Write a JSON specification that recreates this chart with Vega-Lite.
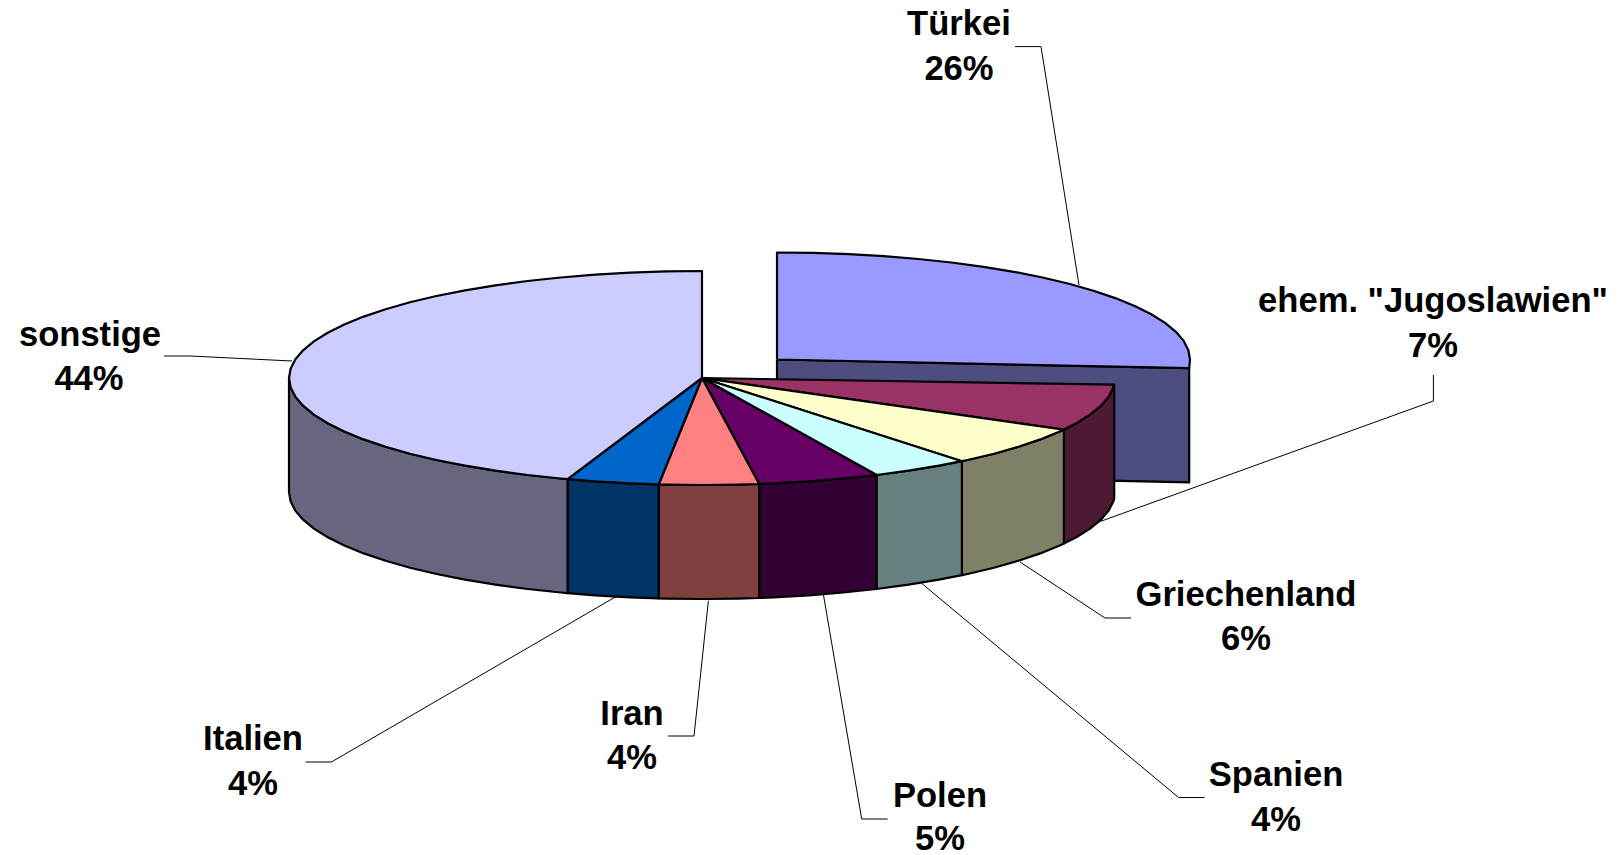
{"$schema":"https://vega.github.io/schema/vega-lite/v6.json","width":1624,"height":855,"padding":0,"autosize":"none","background":"white","config":{"view":{"stroke":null}},
"datasets":{
"shapes":[
{"s":"tcut","i":1,"x":777,"y":359.5},{"s":"tcut","i":2,"x":1189.2,"y":368.2},{"s":"tcut","i":3,"x":1189.2,"y":482.4},{"s":"tcut","i":4,"x":777,"y":473.5},{"s":"tcut","i":5,"x":777,"y":359.5},
{"s":"ttop","i":1,"x":777,"y":359.5},{"s":"ttop","i":2,"x":777,"y":252.5},{"s":"ttop","i":3,"x":813,"y":252.9},{"s":"ttop","i":4,"x":848.7,"y":254.1},{"s":"ttop","i":5,"x":883.9,"y":256.1},{"s":"ttop","i":6,"x":918.2,"y":259},{"s":"ttop","i":7,"x":951.5,"y":262.5},{"s":"ttop","i":8,"x":983.5,"y":266.8},{"s":"ttop","i":9,"x":1013.9,"y":271.8},{"s":"ttop","i":10,"x":1042.5,"y":277.5},{"s":"ttop","i":11,"x":1069,"y":283.8},{"s":"ttop","i":12,"x":1093.4,"y":290.7},{"s":"ttop","i":13,"x":1115.3,"y":298.1},{"s":"ttop","i":14,"x":1134.7,"y":306},{"s":"ttop","i":15,"x":1151.3,"y":314.3},{"s":"ttop","i":16,"x":1165.1,"y":322.9},{"s":"ttop","i":17,"x":1175.9,"y":331.8},{"s":"ttop","i":18,"x":1183.7,"y":340.9},{"s":"ttop","i":19,"x":1188.4,"y":350.2},{"s":"ttop","i":20,"x":1190,"y":359.5},{"s":"ttop","i":21,"x":1189.2,"y":368.2},{"s":"ttop","i":22,"x":777,"y":359.5},

{"s":"jside","i":1,"x":1114.2,"y":384.7},{"s":"jside","i":2,"x":1113.4,"y":387.3},{"s":"jside","i":3,"x":1108.7,"y":396.6},{"s":"jside","i":4,"x":1100.9,"y":405.7},{"s":"jside","i":5,"x":1090.1,"y":414.6},{"s":"jside","i":6,"x":1076.3,"y":423.2},{"s":"jside","i":7,"x":1063.9,"y":429.6},{"s":"jside","i":8,"x":1063.9,"y":543.6},{"s":"jside","i":9,"x":1076.3,"y":537.2},{"s":"jside","i":10,"x":1090.1,"y":528.6},{"s":"jside","i":11,"x":1100.9,"y":519.7},{"s":"jside","i":12,"x":1108.7,"y":510.6},{"s":"jside","i":13,"x":1113.4,"y":501.3},{"s":"jside","i":14,"x":1114.2,"y":498.7},{"s":"jside","i":15,"x":1114.2,"y":384.7},

{"s":"gside","i":1,"x":1063.9,"y":429.6},{"s":"gside","i":2,"x":1059.7,"y":431.5},{"s":"gside","i":3,"x":1040.3,"y":439.4},{"s":"gside","i":4,"x":1018.4,"y":446.8},{"s":"gside","i":5,"x":994,"y":453.7},{"s":"gside","i":6,"x":967.5,"y":460},{"s":"gside","i":7,"x":961.9,"y":461.2},{"s":"gside","i":8,"x":961.9,"y":575.2},{"s":"gside","i":9,"x":967.5,"y":574},{"s":"gside","i":10,"x":994,"y":567.7},{"s":"gside","i":11,"x":1018.4,"y":560.8},{"s":"gside","i":12,"x":1040.3,"y":553.4},{"s":"gside","i":13,"x":1059.7,"y":545.5},{"s":"gside","i":14,"x":1063.9,"y":543.6},{"s":"gside","i":15,"x":1063.9,"y":429.6},

{"s":"sside","i":1,"x":961.9,"y":461.2},{"s":"sside","i":2,"x":938.9,"y":465.7},{"s":"sside","i":3,"x":908.5,"y":470.7},{"s":"sside","i":4,"x":876.5,"y":475},{"s":"sside","i":5,"x":876.5,"y":589},{"s":"sside","i":6,"x":908.5,"y":584.7},{"s":"sside","i":7,"x":938.9,"y":579.7},{"s":"sside","i":8,"x":961.9,"y":575.2},{"s":"sside","i":9,"x":961.9,"y":461.2},

{"s":"pside","i":1,"x":876.5,"y":475},{"s":"pside","i":2,"x":843.2,"y":478.5},{"s":"pside","i":3,"x":808.9,"y":481.4},{"s":"pside","i":4,"x":773.7,"y":483.4},{"s":"pside","i":5,"x":759.2,"y":484},{"s":"pside","i":6,"x":759.2,"y":598},{"s":"pside","i":7,"x":773.7,"y":597.4},{"s":"pside","i":8,"x":808.9,"y":595.4},{"s":"pside","i":9,"x":843.2,"y":592.5},{"s":"pside","i":10,"x":876.5,"y":589},{"s":"pside","i":11,"x":876.5,"y":475},

{"s":"iside","i":1,"x":759.2,"y":484},{"s":"iside","i":2,"x":738,"y":484.6},{"s":"iside","i":3,"x":702,"y":485},{"s":"iside","i":4,"x":666,"y":484.6},{"s":"iside","i":5,"x":658.7,"y":484.4},{"s":"iside","i":6,"x":658.7,"y":598.4},{"s":"iside","i":7,"x":666,"y":598.6},{"s":"iside","i":8,"x":702,"y":599},{"s":"iside","i":9,"x":738,"y":598.6},{"s":"iside","i":10,"x":759.2,"y":598},{"s":"iside","i":11,"x":759.2,"y":484},

{"s":"lside","i":1,"x":658.7,"y":484.4},{"s":"lside","i":2,"x":630.3,"y":483.4},{"s":"lside","i":3,"x":595.1,"y":481.4},{"s":"lside","i":4,"x":567.6,"y":479.2},{"s":"lside","i":5,"x":567.6,"y":593.2},{"s":"lside","i":6,"x":595.1,"y":595.4},{"s":"lside","i":7,"x":630.3,"y":597.4},{"s":"lside","i":8,"x":658.7,"y":598.4},{"s":"lside","i":9,"x":658.7,"y":484.4},

{"s":"oside","i":1,"x":567.6,"y":479.2},{"s":"oside","i":2,"x":560.8,"y":478.5},{"s":"oside","i":3,"x":527.5,"y":475},{"s":"oside","i":4,"x":495.5,"y":470.7},{"s":"oside","i":5,"x":465.1,"y":465.7},{"s":"oside","i":6,"x":436.5,"y":460},{"s":"oside","i":7,"x":410,"y":453.7},{"s":"oside","i":8,"x":385.6,"y":446.8},{"s":"oside","i":9,"x":363.7,"y":439.4},{"s":"oside","i":10,"x":344.3,"y":431.5},{"s":"oside","i":11,"x":327.7,"y":423.2},{"s":"oside","i":12,"x":313.9,"y":414.6},{"s":"oside","i":13,"x":303.1,"y":405.7},{"s":"oside","i":14,"x":295.3,"y":396.6},{"s":"oside","i":15,"x":290.6,"y":387.3},{"s":"oside","i":16,"x":289,"y":378},{"s":"oside","i":17,"x":289,"y":492},{"s":"oside","i":18,"x":290.6,"y":501.3},{"s":"oside","i":19,"x":295.3,"y":510.6},{"s":"oside","i":20,"x":303.1,"y":519.7},{"s":"oside","i":21,"x":313.9,"y":528.6},{"s":"oside","i":22,"x":327.7,"y":537.2},{"s":"oside","i":23,"x":344.3,"y":545.5},{"s":"oside","i":24,"x":363.7,"y":553.4},{"s":"oside","i":25,"x":385.6,"y":560.8},{"s":"oside","i":26,"x":410,"y":567.7},{"s":"oside","i":27,"x":436.5,"y":574},{"s":"oside","i":28,"x":465.1,"y":579.7},{"s":"oside","i":29,"x":495.5,"y":584.7},{"s":"oside","i":30,"x":527.5,"y":589},{"s":"oside","i":31,"x":560.8,"y":592.5},{"s":"oside","i":32,"x":567.6,"y":593.2},{"s":"oside","i":33,"x":567.6,"y":479.2},

{"s":"jtop","i":1,"x":702,"y":378},{"s":"jtop","i":2,"x":1114.2,"y":384.7},{"s":"jtop","i":3,"x":1113.4,"y":387.3},{"s":"jtop","i":4,"x":1108.7,"y":396.6},{"s":"jtop","i":5,"x":1100.9,"y":405.7},{"s":"jtop","i":6,"x":1090.1,"y":414.6},{"s":"jtop","i":7,"x":1076.3,"y":423.2},{"s":"jtop","i":8,"x":1063.9,"y":429.6},{"s":"jtop","i":9,"x":702,"y":378},

{"s":"gtop","i":1,"x":702,"y":378},{"s":"gtop","i":2,"x":1063.9,"y":429.6},{"s":"gtop","i":3,"x":1059.7,"y":431.5},{"s":"gtop","i":4,"x":1040.3,"y":439.4},{"s":"gtop","i":5,"x":1018.4,"y":446.8},{"s":"gtop","i":6,"x":994,"y":453.7},{"s":"gtop","i":7,"x":967.5,"y":460},{"s":"gtop","i":8,"x":961.9,"y":461.2},{"s":"gtop","i":9,"x":702,"y":378},

{"s":"stop","i":1,"x":702,"y":378},{"s":"stop","i":2,"x":961.9,"y":461.2},{"s":"stop","i":3,"x":938.9,"y":465.7},{"s":"stop","i":4,"x":908.5,"y":470.7},{"s":"stop","i":5,"x":876.5,"y":475},{"s":"stop","i":6,"x":702,"y":378},

{"s":"ptop","i":1,"x":702,"y":378},{"s":"ptop","i":2,"x":876.5,"y":475},{"s":"ptop","i":3,"x":843.2,"y":478.5},{"s":"ptop","i":4,"x":808.9,"y":481.4},{"s":"ptop","i":5,"x":773.7,"y":483.4},{"s":"ptop","i":6,"x":759.2,"y":484},{"s":"ptop","i":7,"x":702,"y":378},

{"s":"itop","i":1,"x":702,"y":378},{"s":"itop","i":2,"x":759.2,"y":484},{"s":"itop","i":3,"x":738,"y":484.6},{"s":"itop","i":4,"x":702,"y":485},{"s":"itop","i":5,"x":666,"y":484.6},{"s":"itop","i":6,"x":658.7,"y":484.4},{"s":"itop","i":7,"x":702,"y":378},

{"s":"ltop","i":1,"x":702,"y":378},{"s":"ltop","i":2,"x":658.7,"y":484.4},{"s":"ltop","i":3,"x":630.3,"y":483.4},{"s":"ltop","i":4,"x":595.1,"y":481.4},{"s":"ltop","i":5,"x":567.6,"y":479.2},{"s":"ltop","i":6,"x":702,"y":378},

{"s":"otop","i":1,"x":702,"y":378},{"s":"otop","i":2,"x":567.6,"y":479.2},{"s":"otop","i":3,"x":560.8,"y":478.5},{"s":"otop","i":4,"x":527.5,"y":475},{"s":"otop","i":5,"x":495.5,"y":470.7},{"s":"otop","i":6,"x":465.1,"y":465.7},{"s":"otop","i":7,"x":436.5,"y":460},{"s":"otop","i":8,"x":410,"y":453.7},{"s":"otop","i":9,"x":385.6,"y":446.8},{"s":"otop","i":10,"x":363.7,"y":439.4},{"s":"otop","i":11,"x":344.3,"y":431.5},{"s":"otop","i":12,"x":327.7,"y":423.2},{"s":"otop","i":13,"x":313.9,"y":414.6},{"s":"otop","i":14,"x":303.1,"y":405.7},{"s":"otop","i":15,"x":295.3,"y":396.6},{"s":"otop","i":16,"x":290.6,"y":387.3},{"s":"otop","i":17,"x":289,"y":378},{"s":"otop","i":18,"x":290.6,"y":368.7},{"s":"otop","i":19,"x":295.3,"y":359.4},{"s":"otop","i":20,"x":303.1,"y":350.3},{"s":"otop","i":21,"x":313.9,"y":341.4},{"s":"otop","i":22,"x":327.7,"y":332.8},{"s":"otop","i":23,"x":344.3,"y":324.5},{"s":"otop","i":24,"x":363.7,"y":316.6},{"s":"otop","i":25,"x":385.6,"y":309.2},{"s":"otop","i":26,"x":410,"y":302.3},{"s":"otop","i":27,"x":436.5,"y":296},{"s":"otop","i":28,"x":465.1,"y":290.3},{"s":"otop","i":29,"x":495.5,"y":285.3},{"s":"otop","i":30,"x":527.5,"y":281},{"s":"otop","i":31,"x":560.8,"y":277.5},{"s":"otop","i":32,"x":595.1,"y":274.6},{"s":"otop","i":33,"x":630.3,"y":272.6},{"s":"otop","i":34,"x":666,"y":271.4},{"s":"otop","i":35,"x":702,"y":271},{"s":"otop","i":36,"x":702,"y":378}
],
"leaders":[
{"k":"t","i":1,"x":1015,"y":46.6},{"k":"t","i":2,"x":1041,"y":46.6},{"k":"t","i":3,"x":1079,"y":285},
{"k":"j","i":1,"x":1433.4,"y":375},{"k":"j","i":2,"x":1433.4,"y":401},{"k":"j","i":3,"x":1096,"y":523},
{"k":"g","i":1,"x":1131,"y":618},{"k":"g","i":2,"x":1105,"y":618},{"k":"g","i":3,"x":1020,"y":562},
{"k":"s","i":1,"x":1204.5,"y":797.5},{"k":"s","i":2,"x":1178.6,"y":797.5},{"k":"s","i":3,"x":920,"y":582},
{"k":"p","i":1,"x":887.6,"y":819},{"k":"p","i":2,"x":861.7,"y":819},{"k":"p","i":3,"x":823.4,"y":594.5},
{"k":"r","i":1,"x":668,"y":736},{"k":"r","i":2,"x":694,"y":736},{"k":"r","i":3,"x":708.4,"y":600.7},
{"k":"l","i":1,"x":305.5,"y":762},{"k":"l","i":2,"x":331.4,"y":762},{"k":"l","i":3,"x":616,"y":596.6},
{"k":"o","i":1,"x":164,"y":356},{"k":"o","i":2,"x":190,"y":356},{"k":"o","i":3,"x":292,"y":361}
],
"labels":[
{"t":"Türkei","x":959,"y":25},{"t":"26%","x":959,"y":70},
{"t":"ehem. \"Jugoslawien\"","x":1433,"y":302},{"t":"7%","x":1433,"y":347},
{"t":"Griechenland","x":1246,"y":596},{"t":"6%","x":1246,"y":640},
{"t":"Spanien","x":1276,"y":776},{"t":"4%","x":1276,"y":821},
{"t":"Polen","x":940,"y":797},{"t":"5%","x":940,"y":840},
{"t":"Iran","x":632,"y":715},{"t":"4%","x":632,"y":759},
{"t":"Italien","x":253,"y":740},{"t":"4%","x":253,"y":785},
{"t":"sonstige","x":90,"y":336},{"t":"44%","x":89,"y":380}
]},
"layer":[
{"data":{"name":"shapes"},"mark":{"type":"line","filled":true,"stroke":"black","strokeWidth":2.2,"strokeJoin":"round","clip":false},
"encoding":{"x":{"field":"x","type":"quantitative","scale":{"domain":[0,1624],"nice":false,"zero":false},"axis":null},"y":{"field":"y","type":"quantitative","scale":{"domain":[855,0],"nice":false,"zero":false},"axis":null},"order":{"field":"i","type":"quantitative"},
"color":{"field":"s","type":"nominal","legend":null,"scale":{"domain":["tcut","ttop","jside","gside","sside","pside","iside","lside","oside","jtop","gtop","stop","ptop","itop","ltop","otop"],"range":["#4d4d80","#9999ff","#4d1a33","#808066","#668080","#330033","#804040","#003366","#666680","#993366","#ffffcc","#ccffff","#660066","#ff8080","#0066cc","#ccccff"]}}}},
{"data":{"name":"leaders"},"mark":{"type":"line","color":"black","strokeWidth":1},
"encoding":{"x":{"field":"x","type":"quantitative","scale":{"domain":[0,1624],"nice":false,"zero":false},"axis":null},"y":{"field":"y","type":"quantitative","scale":{"domain":[855,0],"nice":false,"zero":false},"axis":null},"order":{"field":"i","type":"quantitative"},"detail":{"field":"k"}}},
{"data":{"name":"labels"},"mark":{"type":"text","font":"Liberation Sans","fontWeight":"bold","fontSize":34.6,"align":"center","baseline":"middle","color":"black"},
"encoding":{"x":{"field":"x","type":"quantitative","scale":{"domain":[0,1624],"nice":false,"zero":false},"axis":null},"y":{"field":"y","type":"quantitative","scale":{"domain":[855,0],"nice":false,"zero":false},"axis":null},"text":{"field":"t"}}}
]}
